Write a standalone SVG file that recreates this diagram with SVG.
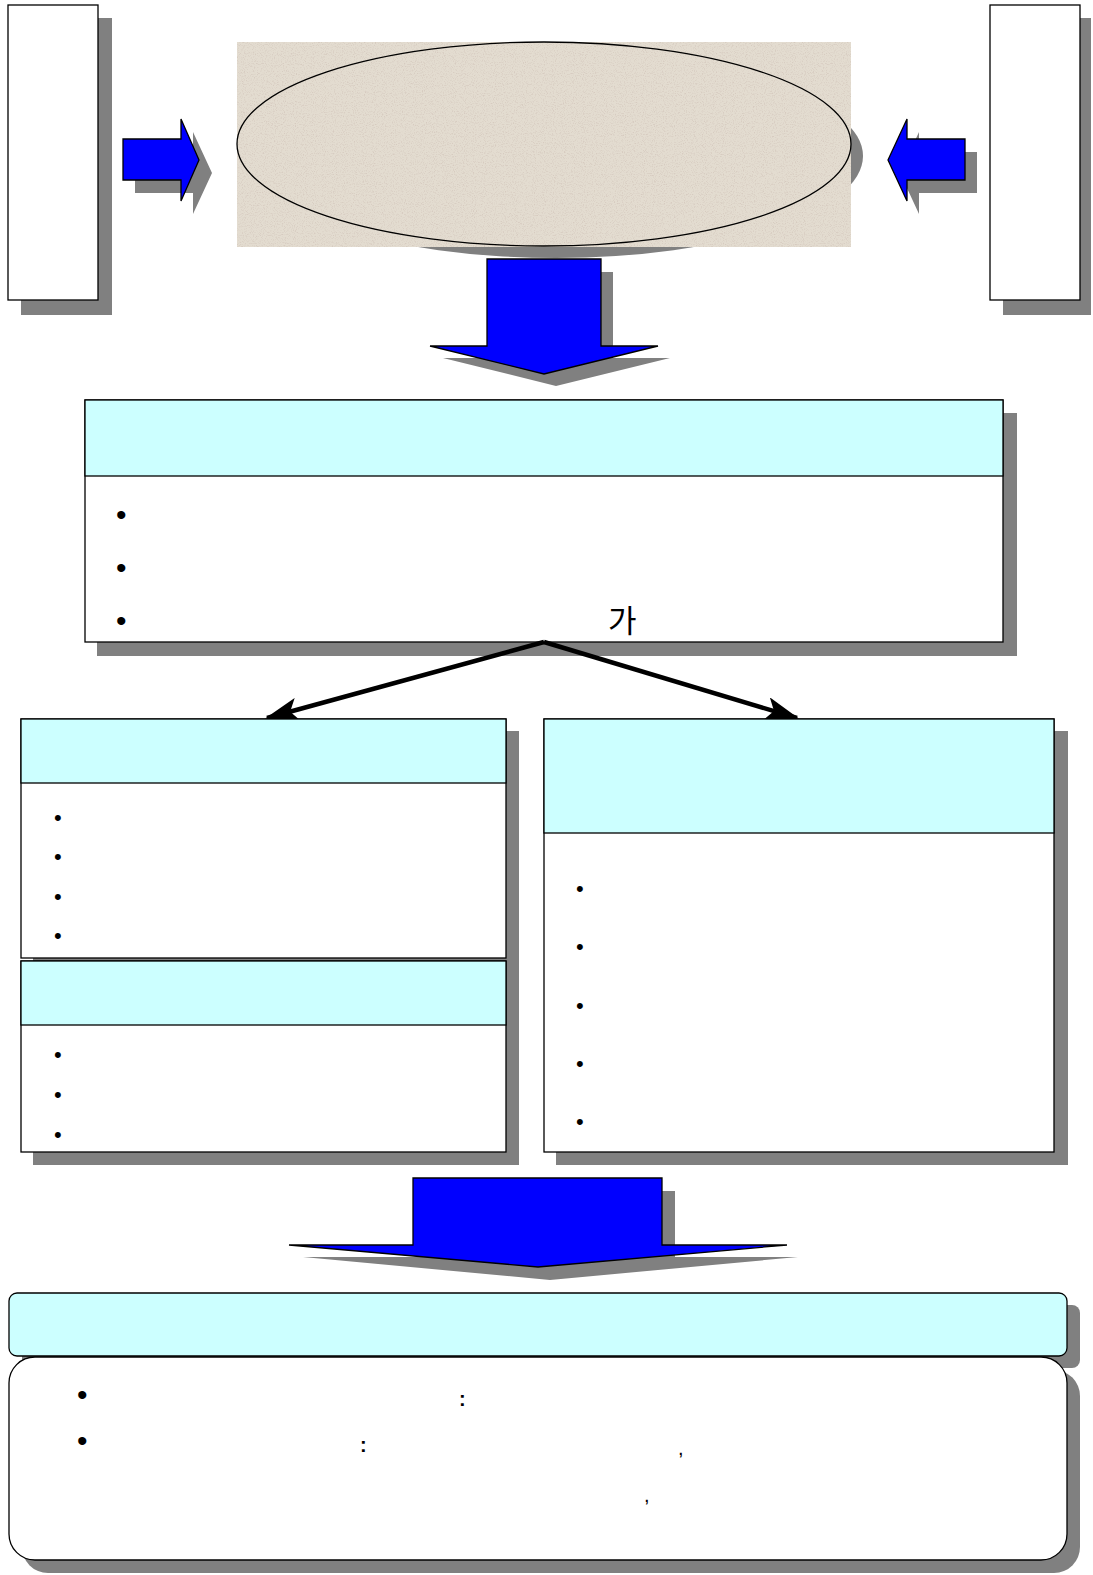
<svg xmlns="http://www.w3.org/2000/svg" width="1093" height="1575" viewBox="0 0 1093 1575">
<style>
.sh{fill:#808080;stroke:none}
.box{fill:#FFFFFF;stroke:#000000;stroke-width:1.3}
.hd{fill:#CCFFFF;stroke:#000000;stroke-width:1.3}
.blue{fill:#0000FF;stroke:#000000;stroke-width:1.3;stroke-linejoin:miter}
.bl{font-family:"Liberation Sans",Arial,sans-serif;font-size:30px;fill:#000}
.bs{font-family:"Liberation Sans",Arial,sans-serif;font-size:22px;fill:#000}
.tx{font-family:"Liberation Sans","Noto Sans CJK KR",sans-serif;fill:#000}
.conn{stroke:#000;stroke-width:4.5;fill:none}
</style>
<defs>
<filter id="grain" x="0" y="0" width="100%" height="100%">
<feTurbulence type="fractalNoise" baseFrequency="0.9" numOctaves="2" seed="3" result="n"/>
<feColorMatrix in="n" type="matrix" values="0 0 0 0 0.68  0 0 0 0 0.60  0 0 0 0 0.53  0 0 0 -3 1.55" result="spots"/>
<feFlood flood-color="#E3DCD0" result="base"/>
<feComposite in="spots" in2="base" operator="over"/>
</filter>
<marker id="ah" markerWidth="34" markerHeight="24" refX="32" refY="12" orient="auto" markerUnits="userSpaceOnUse" viewBox="0 0 34 24">
<path d="M0,0 L34,12 L0,24 L8,12 Z" fill="#000"/>
</marker>
</defs>

<g id="source-left">
<rect class="sh" x="21" y="18" width="91" height="297"/>
<rect class="box" x="8" y="5" width="90" height="295"/>
</g>
<g id="source-right">
<rect class="sh" x="1003" y="18" width="88" height="297"/>
<rect class="box" x="990" y="5" width="90" height="295"/>
</g>

<g id="center-ellipse">
<ellipse class="sh" cx="556" cy="156" rx="307" ry="102"/>
<rect x="237" y="42" width="614" height="205" fill="#E3DCD0" filter="url(#grain)"/>
<ellipse cx="544" cy="144" rx="307" ry="102" fill="none" stroke="#000" stroke-width="1.3"/>
</g>

<g id="arrow-right-in">
<polygon class="sh" points="135,152 193,152 193,132 212,173 193,214 193,193 135,193"/>
<polygon class="blue" points="123,139 181,139 181,119 199,160 181,201 181,180 123,180"/>
</g>
<g id="arrow-left-in">
<polygon class="sh" points="977,152 919,152 919,132 900,173 919,214 919,193 977,193"/>
<polygon class="blue" points="965,139 907,139 907,119 888,160 907,201 907,180 965,180"/>
</g>

<g id="arrow-down-1">
<polygon class="sh" points="499,272 613,272 613,358 670,358 556,386 443,358 499,358"/>
<polygon class="blue" points="487,259 601,259 601,346 658,346 544,374 430,346 487,346"/>
</g>

<g id="box-main">
<rect class="sh" x="97" y="413" width="920" height="243"/>
<rect class="box" x="85" y="400" width="918" height="242"/>
<rect class="hd" x="85" y="400" width="918" height="76"/>
<text class="bl" x="116" y="525">•</text>
<text class="bl" x="116" y="578">•</text>
<text class="bl" x="116" y="631">•</text>
<text class="tx" x="608" y="632" font-size="31">가</text>
</g>

<g id="connectors">
<line class="conn" x1="544" y1="642" x2="267" y2="718" marker-end="url(#ah)"/>
<line class="conn" x1="544" y1="642" x2="797" y2="718" marker-end="url(#ah)"/>
</g>

<g id="box-left-top">
<rect class="sh" x="33" y="731" width="486" height="434"/>
<rect class="box" x="21" y="719" width="485" height="239"/>
<rect class="hd" x="21" y="719" width="485" height="64"/>
<text class="bs" x="54" y="825">•</text>
<text class="bs" x="54" y="864">•</text>
<text class="bs" x="54" y="904">•</text>
<text class="bs" x="54" y="943">•</text>
</g>
<g id="box-left-bottom">
<rect class="box" x="21" y="961" width="485" height="191"/>
<rect class="hd" x="21" y="961" width="485" height="64"/>
<text class="bs" x="54" y="1062">•</text>
<text class="bs" x="54" y="1102">•</text>
<text class="bs" x="54" y="1142">•</text>
</g>

<g id="box-right">
<rect class="sh" x="556" y="731" width="512" height="434"/>
<rect class="box" x="544" y="719" width="510" height="433"/>
<rect class="hd" x="544" y="719" width="510" height="114"/>
<text class="bs" x="576" y="896">•</text>
<text class="bs" x="576" y="954">•</text>
<text class="bs" x="576" y="1013">•</text>
<text class="bs" x="576" y="1071">•</text>
<text class="bs" x="576" y="1129">•</text>
</g>

<g id="arrow-down-2">
<polygon class="sh" points="425,1191 675,1191 675,1257 798,1257 550,1280 303,1257 425,1257"/>
<polygon class="blue" points="413,1178 662,1178 662,1245 787,1245 538,1267 289,1245 413,1245"/>
</g>

<g id="conclusion-header">
<rect class="sh" x="22" y="1305" width="1058" height="63" rx="8"/>
<rect class="hd" x="9" y="1293" width="1058" height="63" rx="8"/>
</g>
<g id="conclusion-body">
<rect class="sh" x="22" y="1370" width="1058" height="203" rx="26"/>
<rect class="box" x="9" y="1357" width="1058" height="203" rx="26"/>
<text class="bl" x="77" y="1405">•</text>
<text class="bl" x="77" y="1451">•</text>
<text class="tx" x="459" y="1406" font-size="20" font-weight="bold">:</text>
<text class="tx" x="360" y="1452" font-size="20" font-weight="bold">:</text>
<text class="tx" x="678" y="1455" font-size="20">,</text>
<text class="tx" x="644" y="1502" font-size="20">,</text>
</g>
</svg>
